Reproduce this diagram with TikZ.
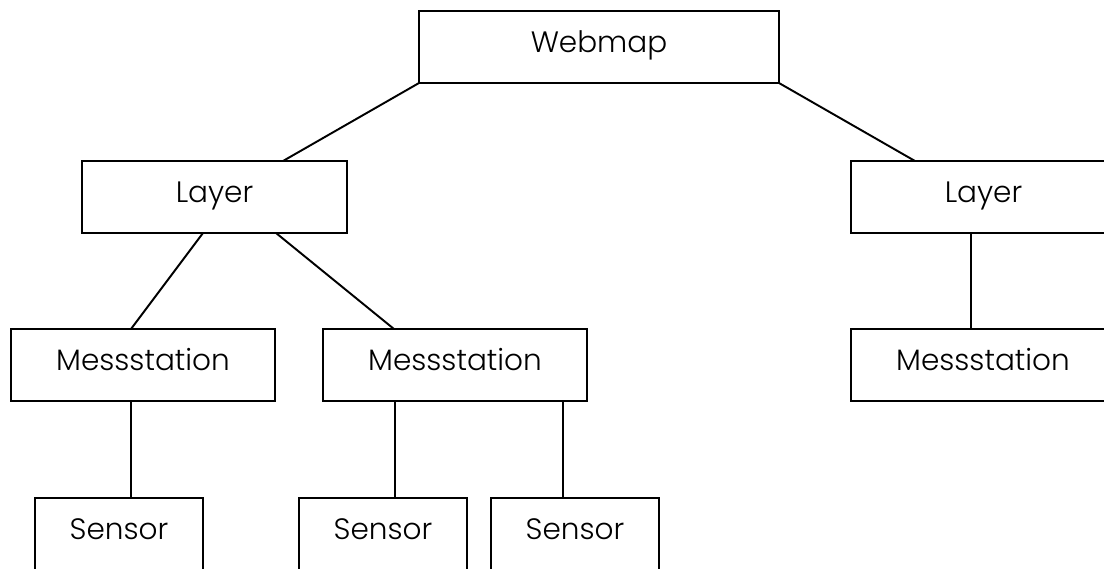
\documentclass[tikz,border=0pt]{standalone}
\usepackage{fontspec}
\setmainfont{Poppins}[UprightFont=* Light]
\usepackage{tikz}
\usetikzlibrary{positioning,calc}
\tikzstyle{box} = [rectangle, draw=black, line width=1.1pt, inner sep=0pt, outer sep=0pt,
    text height=0.82cm, text depth=0.62cm, font=\fontsize{16.8}{20}\selectfont]
\tikzstyle{link} = [draw=black, line width=1.1pt]

\begin{document}
\begin{tikzpicture}[x=0.02cm, y=-0.02cm]
\useasboundingbox (0,0) rectangle (1104,568);
\clip (0,0) rectangle (1104,568);
\node[box, minimum width=7.2cm] (web) at (599,47) {Webmap};
\node[box, minimum width=5.3cm] (layerL) at (214.5,197) {Layer};
\node[box, minimum width=5.3cm] (layerR) at (983.5,197) {Layer};
\node[box, minimum width=5.28cm] (messA) at (143,365) {Messstation};
\node[box, minimum width=5.28cm] (messB) at (455,365) {Messstation};
\node[box, minimum width=5.28cm] (messC) at (983,365) {Messstation};
\node[box, minimum width=3.36cm] (sensA) at (119,534) {Sensor};
\node[box, minimum width=3.36cm] (sensB) at (383,534) {Sensor};
\node[box, minimum width=3.36cm] (sensC) at (575,534) {Sensor};
\draw[link] (web.south west) -- ($(layerL.north)+(68.5,0)$);
\draw[link] (web.south east) -- ($(layerR.north)+(-68.5,0)$);
\draw[link] ($(layerL.south)+(-11.5,0)$) -- ($(messA.north)+(-12,0)$);
\draw[link] ($(layerL.south)+(61.5,0)$) -- ($(messB.north)+(-61,0)$);
\draw[link] ($(layerR.south)+(-12.5,0)$) -- ($(messC.north)+(-12,0)$);
\draw[link] ($(messA.south)+(-12,0)$) -- ($(sensA.north)+(12,0)$);
\draw[link] ($(messB.south)+(-60,0)$) -- ($(sensB.north)+(12,0)$);
\draw[link] ($(messB.south)+(108,0)$) -- ($(sensC.north)+(-12,0)$);
\end{tikzpicture}
\end{document}
